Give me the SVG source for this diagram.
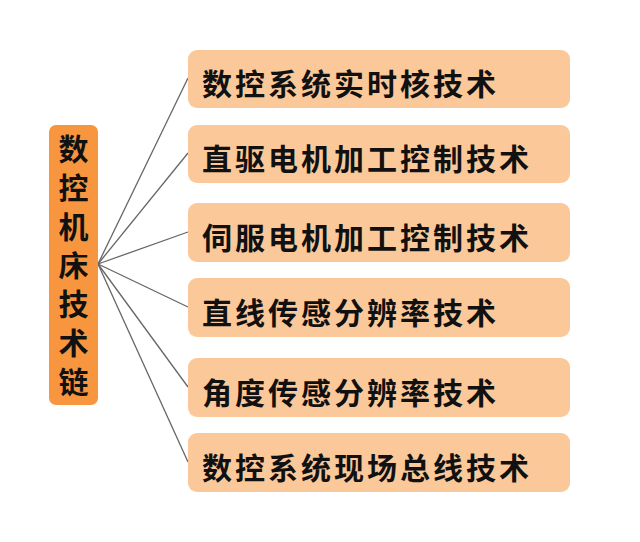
<svg xmlns="http://www.w3.org/2000/svg" width="640" height="542" viewBox="0 0 640 542">
<style>
.t{font-family:"Noto Sans CJK SC","Noto Sans CJK JP",sans-serif;font-size:30px;font-weight:700;fill:#111;dominant-baseline:central}
.v{font-family:"Noto Sans CJK SC","Noto Sans CJK JP",sans-serif;font-size:30px;font-weight:700;fill:#111;writing-mode:vertical-rl;text-orientation:upright;letter-spacing:8.7px}
.rb{fill:#FBC89A}
.lb{fill:#F7963F}
.c line{stroke:#666;stroke-width:1.3}
</style>
<rect width="640" height="542" fill="#fff"/>
<g class="c" id="connectors">
<line x1="98" y1="264" x2="188" y2="78"/>
<line x1="98" y1="264" x2="188" y2="153"/>
<line x1="98" y1="264" x2="188" y2="232"/>
<line x1="98" y1="264" x2="188" y2="307"/>
<line x1="98" y1="264" x2="188" y2="387"/>
<line x1="98" y1="264" x2="188" y2="462"/>
</g>
<g id="root">
<rect class="lb" x="49" y="125" width="49" height="280" rx="7"/>
<text class="v" x="73.5" y="134">数控机床技术链</text>
</g>
<g id="n1"><rect class="rb" x="188" y="50" width="382" height="58" rx="9"/><text class="t" x="202" y="82" letter-spacing="3">数控系统实时核技术</text></g>
<g id="n2"><rect class="rb" x="188" y="125" width="382" height="58" rx="9"/><text class="t" x="202" y="157" letter-spacing="3">直驱电机加工控制技术</text></g>
<g id="n3"><rect class="rb" x="188" y="203" width="382" height="59" rx="9"/><text class="t" x="202" y="236" letter-spacing="3">伺服电机加工控制技术</text></g>
<g id="n4"><rect class="rb" x="188" y="278" width="382" height="59" rx="9"/><text class="t" x="202" y="311" letter-spacing="3">直线传感分辨率技术</text></g>
<g id="n5"><rect class="rb" x="188" y="358" width="382" height="59" rx="9"/><text class="t" x="202" y="391" letter-spacing="3">角度传感分辨率技术</text></g>
<g id="n6"><rect class="rb" x="188" y="433" width="382" height="59" rx="9"/><text class="t" x="202" y="466" letter-spacing="3">数控系统现场总线技术</text></g>
</svg>
